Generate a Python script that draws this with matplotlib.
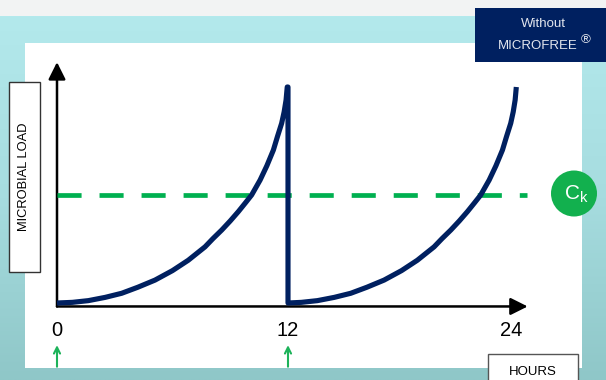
import numpy as np
import matplotlib
matplotlib.use("Agg")
import matplotlib.pyplot as plt
from matplotlib.patches import Rectangle, Circle
from matplotlib.colors import LinearSegmentedColormap

plt.rcParams['font.family'] = ['Liberation Sans', 'DejaVu Sans']

# ---- data (hours, microbial load in % of the peak) ----
cycle1_hours = [0, 0.8, 1.63, 2.5, 3.36, 4.2, 5.09, 6.0, 6.82, 7.69, 8.1, 8.56, 9.0,
                9.42, 9.8, 10.11, 10.55, 10.9, 11.24, 11.45, 11.67, 11.8, 11.9, 11.96, 12.0]
cycle1_load = [0, 0.3, 1.1, 2.6, 4.5, 7.3, 10.6, 15, 19.8, 26, 29.8, 33.8, 38,
               42.3, 46.5, 50, 56.9, 63.5, 70.8, 77, 83.2, 88.5, 94, 100, 100]
cycle2_hours = [12.0, 12.7, 13.53, 14.4, 15.26, 16.1, 16.99, 17.9, 18.72, 19.59, 20.0, 20.46,
                20.9, 21.32, 21.7, 22.01, 22.45, 22.8, 23.14, 23.35, 23.57, 23.7, 23.8, 23.86]
cycle2_load = [0, 0.3, 1.1, 2.6, 4.5, 7.3, 10.6, 15, 19.8, 26, 29.8, 33.8,
               38, 42.3, 46.5, 50, 56.9, 63.5, 70.8, 77, 83.2, 88.5, 94, 100]
critical_load = 50
dose_hours = [0, 12]
tick_hours = [0, 12, 23.6]
tick_labels = ["0", "12", "24"]

NAVY = "#002060"
GREEN = "#00b050"

W, H = 606, 380
fig = plt.figure(figsize=(W / 100, H / 100), dpi=100)

# ---- background / decoration axes in pixel units ----
bg = fig.add_axes([0, 0, 1, 1])
bg.set_xlim(0, W)
bg.set_ylim(H, 0)
bg.axis("off")

cmap = LinearSegmentedColormap.from_list("teal", ["#b3e9ec", "#a6dcdf", "#8fc7c8"])
grad = np.linspace(0, 1, 200).reshape(-1, 1) * np.ones((1, 50))
bg.imshow(grad, cmap=cmap, extent=(0, W, H, 16), aspect="auto", zorder=0)
bg.add_patch(Rectangle((0, 0), W, 16, facecolor="#f2f3f3", edgecolor="none", zorder=1))
# white panel
bg.add_patch(Rectangle((25, 43), 557, 325, facecolor="white", edgecolor="none", zorder=2))
# top-right label box
bg.add_patch(Rectangle((475, 8), 131, 54, facecolor="#002060", edgecolor="none", zorder=3))
bg.text(543, 24, "Without", color="#e3e6ee", fontsize=9.5, ha="center", va="center", zorder=4)
bg.text(537.5, 46, "MICROFREE", color="#e3e6ee", fontsize=9.5, ha="center", va="center", zorder=4)
bg.text(585.5, 40, "®", color="#e3e6ee", fontsize=9.5, ha="center", va="center", zorder=4)
# y label box
bg.add_patch(Rectangle((8.5, 82), 31, 190, facecolor="white", edgecolor="#333333", lw=1.0, zorder=3))
bg.text(24, 177, "MICROBIAL LOAD", rotation=90, fontsize=9.3, ha="center", va="center",
        color="black", zorder=4)
# x label box
bg.add_patch(Rectangle((488, 354), 90, 30, facecolor="white", edgecolor="#555555", lw=1.0, zorder=3))
bg.text(533, 372, "HOURS", fontsize=9.5, ha="center", va="center", color="black", zorder=4)
# Ck circle
bg.add_patch(Circle((574, 193.5), 23, facecolor="#12b04e", edgecolor="none", zorder=3))
bg.text(576, 194, "C$_\\mathregular{k}$", fontsize=15, color="white", ha="center", va="center", zorder=4)

# ---- chart axes ----
x0, x12, y0, y100 = 57, 288, 303, 87
pph = (x12 - x0) / 12.0
ax = fig.add_axes([x0 / W, (H - y0) / H, 24 * pph / W, (y0 - y100) / H])
ax.set_xlim(0, 24)
ax.set_ylim(0, 100)
ax.patch.set_alpha(0)
ax.axis("off")

# axes arrows
base = -1.6
ax.annotate("", xy=(24.45, base), xytext=(0, base), annotation_clip=False,
            arrowprops=dict(arrowstyle="-|>", color="black", lw=1.8, mutation_scale=26,
                            shrinkA=0, shrinkB=0))
ax.annotate("", xy=(0, 111.5), xytext=(0, base), annotation_clip=False,
            arrowprops=dict(arrowstyle="-|>", color="black", lw=1.8, mutation_scale=26,
                            shrinkA=0, shrinkB=0))

# critical level
ax.plot([0, 24.4], [critical_load, critical_load], color=GREEN, lw=3.4,
        dashes=(5.1, 3.8), dash_capstyle="butt", clip_on=False, zorder=3)

# microbial load
ax.plot(cycle1_hours + cycle2_hours, cycle1_load + cycle2_load, color=NAVY, lw=3.7,
        solid_joinstyle="round", solid_capstyle="butt", clip_on=False, zorder=4)

# tick labels
for h, lab in zip(tick_hours, tick_labels):
    ax.text(h, -12.5, lab, fontsize=14.5, ha="center", va="center", color="black", clip_on=False)

# dosing arrows
for h in dose_hours:
    ax.annotate("", xy=(h, -19.5), xytext=(h, -29.5), annotation_clip=False,
                arrowprops=dict(arrowstyle="->", color="#1db35a", lw=1.5, mutation_scale=11,
                                shrinkA=0, shrinkB=0))

fig.savefig("out.png", dpi=100)
